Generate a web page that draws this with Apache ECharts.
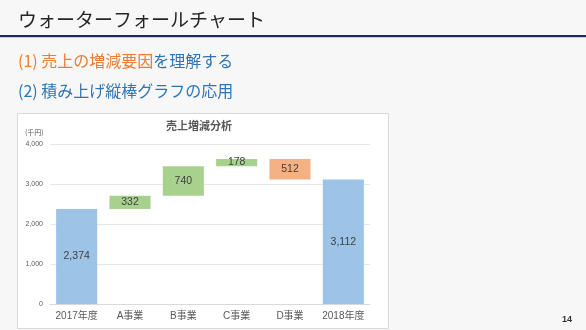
<!DOCTYPE html>
<html><head><meta charset="utf-8">
<script src="https://cdn.jsdelivr.net/npm/echarts@6/dist/echarts.min.js"></script>
<style>html,body{margin:0;padding:0;background:#f7f7f7;}#c{width:586px;height:330px;}</style>
</head><body><div id="c"></div>
<script>
const categories = ['2017年度','A事業','B事業','C事業','D事業','2018年度'];
const changes = [2374, 332, 740, 178, -512, 3112];
const kinds = ['total','up','up','up','down','total'];
const yTicks = [0, 1000, 2000, 3000, 4000];

const FONT = '"Noto Sans CJK JP", "Noto Sans", sans-serif';
const NFONT = '"Liberation Sans", "Noto Sans CJK JP", sans-serif';
const colors = {total:'#9dc3e6', up:'#a9d18e', down:'#f4b183'};

// derive invisible base & visible heights from the changes
let run = 0;
const base = [], height = [];
changes.forEach((v, i) => {
  if (kinds[i] === 'total') { base.push(0); height.push(v); run = v; }
  else if (v >= 0) { base.push(run); height.push(v); run += v; }
  else { run += v; base.push(run); height.push(-v); }
});

const chart = echarts.init(document.getElementById('c'), null, {renderer:'canvas'});
chart.setOption({
  backgroundColor: '#f7f7f7',
  animation: false,
  textStyle: {fontFamily: FONT},
  graphic: [
    {type:'text', left:18, top:10, style:{text:'ウォーターフォールチャート', fontSize:19, fill:'#262626', fontFamily:FONT}},
    {type:'rect', shape:{x:0, y:35, width:586, height:2}, style:{fill:'#1f2d5c'}},
    {type:'rect', shape:{x:0, y:37, width:586, height:1}, style:{fill:'#c8c8d0'}},
    {type:'text', left:18, top:53, style:{rich:{o:{fill:'#ed7d31', fontSize:16, fontFamily:FONT}, b:{fill:'#2e75b6', fontSize:16, fontFamily:FONT}}, text:'{o|(1) 売上の増減要因}{b|を理解する}'}},
    {type:'text', left:18, top:83, style:{text:'(2) 積み上げ縦棒グラフの応用', fill:'#2e75b6', fontSize:16, fontFamily:FONT}},
    {type:'rect', z:-1, shape:{x:17.5, y:113.5, width:371, height:215}, style:{fill:'#ffffff', stroke:'#d9d9d9', lineWidth:1}},
    {type:'text', left:166, top:120, style:{text:'売上増減分析', fill:'#595959', fontSize:11, fontWeight:'bold', fontFamily:FONT}},
    {type:'text', left:25, top:129, style:{text:'(千円)', fill:'#595959', fontSize:7, fontFamily:FONT}},
    {type:'text', left:562, top:315, style:{text:'14', fill:'#333333', fontSize:9, fontWeight:'bold', fontFamily:NFONT}}
  ],
  grid: {left:50, right:216, top:144, bottom:26},
  xAxis: {
    type:'category', data:categories,
    axisLine:{lineStyle:{color:'#d9d9d9'}}, axisTick:{show:false},
    axisLabel:{color:'#595959', fontSize:10, margin:7, interval:0, fontFamily:NFONT}
  },
  yAxis: {
    type:'value', min:0, max:4000, interval:1000,
    axisLine:{show:false}, axisTick:{show:false},
    splitLine:{lineStyle:{color:'#e6e6e6'}},
    axisLabel:{color:'#595959', fontSize:7, margin:7, fontFamily:NFONT, formatter:v=>v.toLocaleString('en-US')}
  },
  series: [
    {type:'bar', stack:'w', data:base, itemStyle:{color:'transparent'}, barCategoryGap:'23%', silent:true},
    {type:'bar', stack:'w', barCategoryGap:'23%',
     data: height.map((h,i)=>({value:h, itemStyle:{color:colors[kinds[i]]}})),
     label:{show:true, position:'inside', color:'#404040', fontSize:10.5, fontFamily:NFONT,
       formatter:p=>Math.abs(changes[p.dataIndex]).toLocaleString('en-US')}}
  ]
});
</script></body></html>
